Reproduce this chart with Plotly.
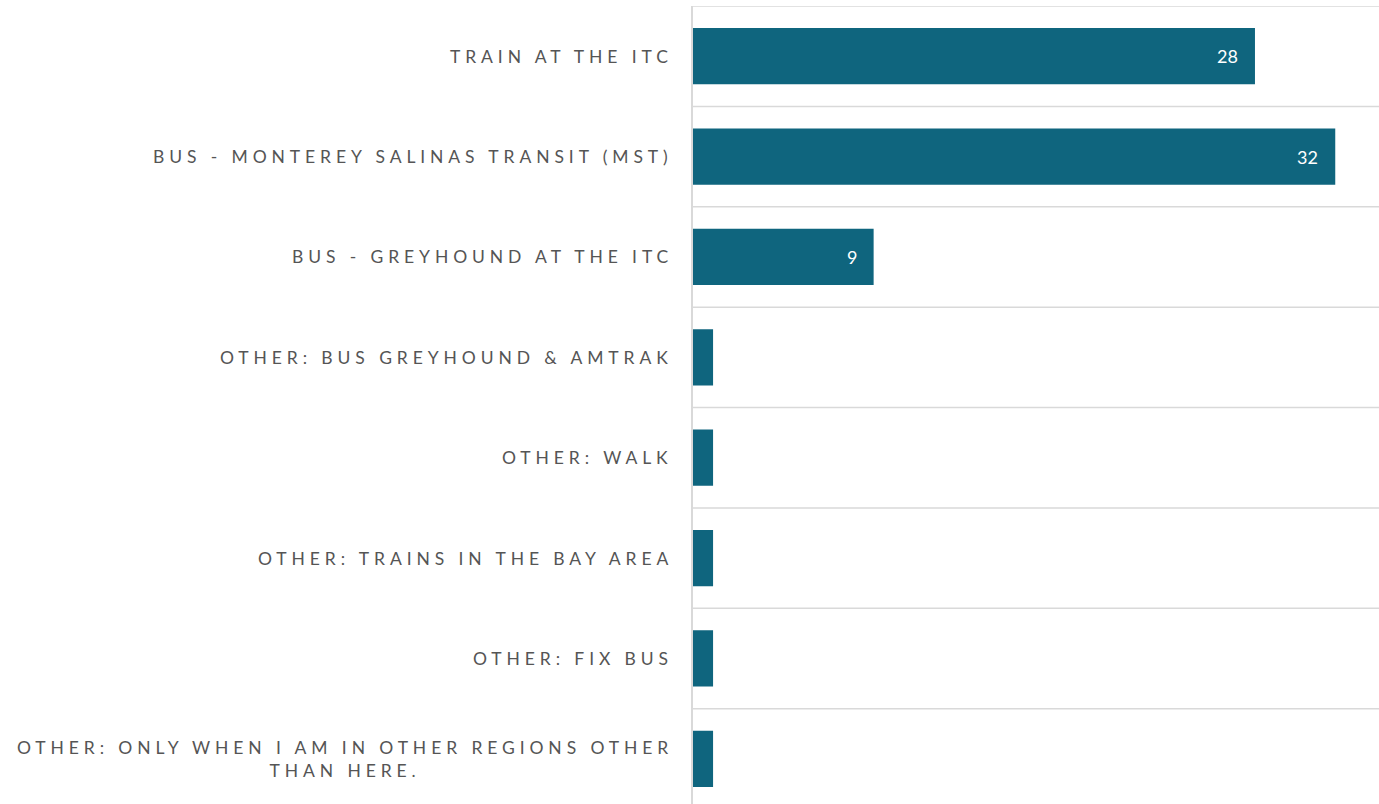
import plotly.graph_objects as go

categories = [
    "TRAIN AT THE ITC",
    "BUS - MONTEREY SALINAS TRANSIT (MST)",
    "BUS - GREYHOUND AT THE ITC",
    "OTHER: BUS GREYHOUND & AMTRAK",
    "OTHER: WALK",
    "OTHER: TRAINS IN THE BAY AREA",
    "OTHER: FIX BUS",
    "OTHER: ONLY WHEN I AM IN OTHER REGIONS OTHER THAN HERE.",
]
label_lines = [
    ["TRAIN AT THE ITC"],
    ["BUS - MONTEREY SALINAS TRANSIT (MST)"],
    ["BUS - GREYHOUND AT THE ITC"],
    ["OTHER: BUS GREYHOUND & AMTRAK"],
    ["OTHER: WALK"],
    ["OTHER: TRAINS IN THE BAY AREA"],
    ["OTHER: FIX BUS"],
    ["OTHER: ONLY WHEN I AM IN OTHER REGIONS OTHER", "THAN HERE."],
]
values = [28, 32, 9, 1, 1, 1, 1, 1]
value_labels = ["28", "32", "9", "", "", "", "", ""]

BAR = "#0F657E"
GRID = "#D9D9D9"
LS = "4.9px"

fig = go.Figure()
fig.add_trace(go.Bar(
    y=categories, x=values, orientation="h",
    marker=dict(color=BAR, line=dict(width=0)),
    width=0.56,
    hoverinfo="skip",
))

annotations = []
for cat, lines in zip(categories, label_lines):
    txt = "<br>".join(f'<span style="letter-spacing:{LS}">{ln}</span>' for ln in lines)
    annotations.append(dict(
        xref="paper", x=0, yref="y", y=cat, xanchor="right", yanchor="middle",
        xshift=-18, align="center", showarrow=False, text=txt,
        font=dict(family="Lato", size=17.5, color="#555555"),
    ))

for cat, v, lab in zip(categories, values, value_labels):
    if lab:
        annotations.append(dict(
            xref="x", x=v, yref="y", y=cat, xanchor="right", yanchor="middle",
            xshift=-15, showarrow=False, text=lab,
            font=dict(family="Lato", size=18, color="white"),
        ))

shapes = []
for i in range(len(categories) + 1):
    shapes.append(dict(type="line", xref="paper", x0=0, x1=1, yref="y",
                       y0=i - 0.5, y1=i - 0.5, line=dict(color=GRID, width=1.5), layer="below"))

fig.update_layout(
    width=1379, height=804,
    margin=dict(l=693, r=0, t=6, b=0),
    paper_bgcolor="white", plot_bgcolor="white",
    showlegend=False,
    annotations=annotations, shapes=shapes,
    xaxis=dict(range=[0, 34.18], showgrid=False, zeroline=False,
               showticklabels=False, showline=False, fixedrange=True),
    yaxis=dict(type="category", categoryorder="array", categoryarray=categories,
               range=[7.45, -0.5], showgrid=False, zeroline=False,
               showticklabels=False, showline=True, linecolor=GRID, linewidth=1.5,
               ticks="", fixedrange=True),
)

fig.write_html(
    "out.html",
    config={"displayModeBar": False},
    post_script="document.body.style.margin='0';document.body.style.overflow='hidden';",
)
